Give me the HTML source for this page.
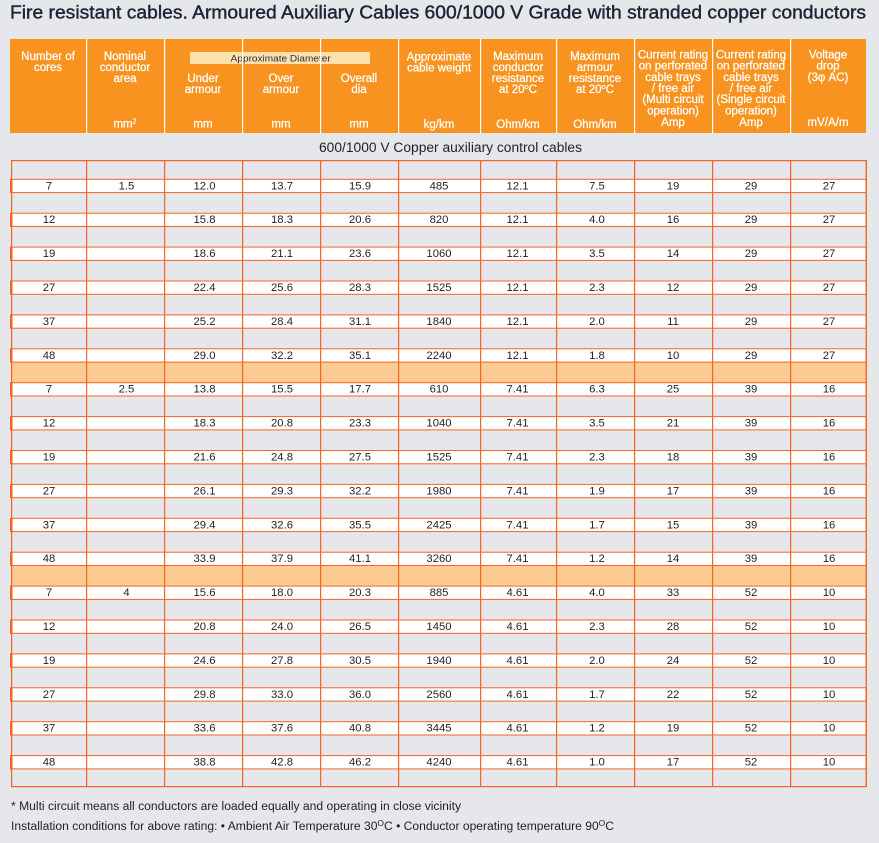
<!DOCTYPE html>
<html><head><meta charset="utf-8"><style>
html,body{margin:0;padding:0;background:#e6e7eb;}
svg{display:block}
.h{font-family:"Liberation Sans",sans-serif;font-size:11.5px;fill:#fff;stroke:#fff;stroke-width:0.25;text-anchor:middle}
.d{font-family:"Liberation Sans",sans-serif;font-size:11.3px;fill:#231f20;text-anchor:middle}
</style></head><body>
<svg width="879" height="843" viewBox="0 0 879 843" xmlns="http://www.w3.org/2000/svg">
<rect width="879" height="843" fill="#e6e7eb"/>
<text x="10" y="18.5" textLength="856" lengthAdjust="spacingAndGlyphs" font-family="Liberation Sans, sans-serif" font-size="18.5" fill="#1e2235" stroke="#1e2235" stroke-width="0.4">Fire resistant cables. Armoured Auxiliary Cables 600/1000 V Grade with stranded copper conductors</text>

<!-- header -->
<rect x="10" y="39" width="856" height="94" fill="#f7931e"/>
<rect x="190" y="52" width="180" height="12" fill="#fde1ab"/>
<text x="230.7" y="61.5" textLength="100" lengthAdjust="spacingAndGlyphs" font-family="Liberation Sans, sans-serif" font-size="9.5" fill="#2b2a4a">Approximate Diameter</text>
<g fill="#fff">
<rect x="86" y="39" width="1.2" height="94"/>
<rect x="164" y="39" width="1.2" height="94"/>
<rect x="242" y="39" width="1.2" height="94"/>
<rect x="320" y="39" width="1.2" height="94"/>
<rect x="398" y="39" width="1.2" height="94"/>
<rect x="480" y="39" width="1.2" height="94"/>
<rect x="556" y="39" width="1.2" height="94"/>
<rect x="634" y="39" width="1.2" height="94"/>
<rect x="712" y="39" width="1.2" height="94"/>
<rect x="790" y="39" width="1.2" height="94"/>
</g>
<g class="h">
<text x="48" y="60">Number of</text><text x="48" y="71">cores</text>
<text x="125" y="60">Nominal</text><text x="125" y="71">conductor</text><text x="125" y="82">area</text>
<text x="125" y="127.5">mm<tspan font-size="7" dy="-4">2</tspan></text>
<text x="203" y="82">Under</text><text x="203" y="93">armour</text><text x="203" y="127.5">mm</text>
<text x="281" y="82">Over</text><text x="281" y="93">armour</text><text x="281" y="127.5">mm</text>
<text x="359" y="82">Overall</text><text x="359" y="93">dia</text><text x="359" y="127.5">mm</text>
<text x="439" y="60.5">Approximate</text><text x="439" y="71.5">cable weight</text><text x="439" y="128">kg/km</text>
<text x="518" y="60">Maximum</text><text x="518" y="71">conductor</text><text x="518" y="82">resistance</text>
<text x="518" y="93">at 20<tspan font-size="7.5" dy="-4">o</tspan><tspan dy="4">C</tspan></text><text x="518" y="128">Ohm/km</text>
<text x="595" y="60">Maximum</text><text x="595" y="71">armour</text><text x="595" y="82">resistance</text>
<text x="595" y="93">at 20<tspan font-size="7.5" dy="-4">o</tspan><tspan dy="4">C</tspan></text><text x="595" y="128">Ohm/km</text>
<text x="673" y="58.5">Current rating</text><text x="673" y="69.5">on perforated</text><text x="673" y="81">cable trays</text><text x="673" y="92">/ free air</text><text x="673" y="103">(Multi circuit</text><text x="673" y="114.5">operation)</text><text x="673" y="126">Amp</text>
<text x="751" y="58.5">Current rating</text><text x="751" y="69.5">on perforated</text><text x="751" y="81">cable trays</text><text x="751" y="92">/ free air</text><text x="751" y="103">(Single circuit</text><text x="751" y="114.5">operation)</text><text x="751" y="126">Amp</text>
<text x="828" y="58.5">Voltage</text><text x="828" y="69.5">drop</text><text x="828" y="81">(3φ AC)</text><text x="828" y="126">mV/A/m</text>
</g>

<text x="319" y="152" textLength="263" lengthAdjust="spacingAndGlyphs" font-family="Liberation Sans, sans-serif" font-size="13.5" fill="#231f20">600/1000 V Copper auxiliary control cables</text>

<!-- highlight bands -->
<rect x="11" y="362.1" width="855" height="20.6" fill="#fdca92"/>
<rect x="11" y="565.5" width="855" height="20.6" fill="#fdca92"/>

<!-- rows -->
<g class="d">
<g transform="translate(0,179.3)"><rect x="11" y="0" width="855" height="13.3" fill="#fff" stroke="#f26522" stroke-width="1"/><rect x="10" y="-0.5" width="2.5" height="14.3" fill="#f26522"/>
<text x="49" y="10">7</text><text x="126.5" y="10">1.5</text><text x="204.5" y="10">12.0</text><text x="282" y="10">13.7</text><text x="360" y="10">15.9</text><text x="439" y="10">485</text><text x="517.5" y="10">12.1</text><text x="597" y="10">7.5</text><text x="673" y="10">19</text><text x="751" y="10">29</text><text x="829" y="10">27</text></g>
<g transform="translate(0,213.2)"><rect x="11" y="0" width="855" height="13.3" fill="#fff" stroke="#f26522" stroke-width="1"/><rect x="10" y="-0.5" width="2.5" height="14.3" fill="#f26522"/>
<text x="49" y="10">12</text><text x="204.5" y="10">15.8</text><text x="282" y="10">18.3</text><text x="360" y="10">20.6</text><text x="439" y="10">820</text><text x="517.5" y="10">12.1</text><text x="597" y="10">4.0</text><text x="673" y="10">16</text><text x="751" y="10">29</text><text x="829" y="10">27</text></g>
<g transform="translate(0,247.1)"><rect x="11" y="0" width="855" height="13.3" fill="#fff" stroke="#f26522" stroke-width="1"/><rect x="10" y="-0.5" width="2.5" height="14.3" fill="#f26522"/>
<text x="49" y="10">19</text><text x="204.5" y="10">18.6</text><text x="282" y="10">21.1</text><text x="360" y="10">23.6</text><text x="439" y="10">1060</text><text x="517.5" y="10">12.1</text><text x="597" y="10">3.5</text><text x="673" y="10">14</text><text x="751" y="10">29</text><text x="829" y="10">27</text></g>
<g transform="translate(0,281.0)"><rect x="11" y="0" width="855" height="13.3" fill="#fff" stroke="#f26522" stroke-width="1"/><rect x="10" y="-0.5" width="2.5" height="14.3" fill="#f26522"/>
<text x="49" y="10">27</text><text x="204.5" y="10">22.4</text><text x="282" y="10">25.6</text><text x="360" y="10">28.3</text><text x="439" y="10">1525</text><text x="517.5" y="10">12.1</text><text x="597" y="10">2.3</text><text x="673" y="10">12</text><text x="751" y="10">29</text><text x="829" y="10">27</text></g>
<g transform="translate(0,314.9)"><rect x="11" y="0" width="855" height="13.3" fill="#fff" stroke="#f26522" stroke-width="1"/><rect x="10" y="-0.5" width="2.5" height="14.3" fill="#f26522"/>
<text x="49" y="10">37</text><text x="204.5" y="10">25.2</text><text x="282" y="10">28.4</text><text x="360" y="10">31.1</text><text x="439" y="10">1840</text><text x="517.5" y="10">12.1</text><text x="597" y="10">2.0</text><text x="673" y="10">11</text><text x="751" y="10">29</text><text x="829" y="10">27</text></g>
<g transform="translate(0,348.8)"><rect x="11" y="0" width="855" height="13.3" fill="#fff" stroke="#f26522" stroke-width="1"/><rect x="10" y="-0.5" width="2.5" height="14.3" fill="#f26522"/>
<text x="49" y="10">48</text><text x="204.5" y="10">29.0</text><text x="282" y="10">32.2</text><text x="360" y="10">35.1</text><text x="439" y="10">2240</text><text x="517.5" y="10">12.1</text><text x="597" y="10">1.8</text><text x="673" y="10">10</text><text x="751" y="10">29</text><text x="829" y="10">27</text></g>
<g transform="translate(0,382.7)"><rect x="11" y="0" width="855" height="13.3" fill="#fff" stroke="#f26522" stroke-width="1"/><rect x="10" y="-0.5" width="2.5" height="14.3" fill="#f26522"/>
<text x="49" y="10">7</text><text x="126.5" y="10">2.5</text><text x="204.5" y="10">13.8</text><text x="282" y="10">15.5</text><text x="360" y="10">17.7</text><text x="439" y="10">610</text><text x="517.5" y="10">7.41</text><text x="597" y="10">6.3</text><text x="673" y="10">25</text><text x="751" y="10">39</text><text x="829" y="10">16</text></g>
<g transform="translate(0,416.6)"><rect x="11" y="0" width="855" height="13.3" fill="#fff" stroke="#f26522" stroke-width="1"/><rect x="10" y="-0.5" width="2.5" height="14.3" fill="#f26522"/>
<text x="49" y="10">12</text><text x="204.5" y="10">18.3</text><text x="282" y="10">20.8</text><text x="360" y="10">23.3</text><text x="439" y="10">1040</text><text x="517.5" y="10">7.41</text><text x="597" y="10">3.5</text><text x="673" y="10">21</text><text x="751" y="10">39</text><text x="829" y="10">16</text></g>
<g transform="translate(0,450.5)"><rect x="11" y="0" width="855" height="13.3" fill="#fff" stroke="#f26522" stroke-width="1"/><rect x="10" y="-0.5" width="2.5" height="14.3" fill="#f26522"/>
<text x="49" y="10">19</text><text x="204.5" y="10">21.6</text><text x="282" y="10">24.8</text><text x="360" y="10">27.5</text><text x="439" y="10">1525</text><text x="517.5" y="10">7.41</text><text x="597" y="10">2.3</text><text x="673" y="10">18</text><text x="751" y="10">39</text><text x="829" y="10">16</text></g>
<g transform="translate(0,484.4)"><rect x="11" y="0" width="855" height="13.3" fill="#fff" stroke="#f26522" stroke-width="1"/><rect x="10" y="-0.5" width="2.5" height="14.3" fill="#f26522"/>
<text x="49" y="10">27</text><text x="204.5" y="10">26.1</text><text x="282" y="10">29.3</text><text x="360" y="10">32.2</text><text x="439" y="10">1980</text><text x="517.5" y="10">7.41</text><text x="597" y="10">1.9</text><text x="673" y="10">17</text><text x="751" y="10">39</text><text x="829" y="10">16</text></g>
<g transform="translate(0,518.3)"><rect x="11" y="0" width="855" height="13.3" fill="#fff" stroke="#f26522" stroke-width="1"/><rect x="10" y="-0.5" width="2.5" height="14.3" fill="#f26522"/>
<text x="49" y="10">37</text><text x="204.5" y="10">29.4</text><text x="282" y="10">32.6</text><text x="360" y="10">35.5</text><text x="439" y="10">2425</text><text x="517.5" y="10">7.41</text><text x="597" y="10">1.7</text><text x="673" y="10">15</text><text x="751" y="10">39</text><text x="829" y="10">16</text></g>
<g transform="translate(0,552.2)"><rect x="11" y="0" width="855" height="13.3" fill="#fff" stroke="#f26522" stroke-width="1"/><rect x="10" y="-0.5" width="2.5" height="14.3" fill="#f26522"/>
<text x="49" y="10">48</text><text x="204.5" y="10">33.9</text><text x="282" y="10">37.9</text><text x="360" y="10">41.1</text><text x="439" y="10">3260</text><text x="517.5" y="10">7.41</text><text x="597" y="10">1.2</text><text x="673" y="10">14</text><text x="751" y="10">39</text><text x="829" y="10">16</text></g>
<g transform="translate(0,586.1)"><rect x="11" y="0" width="855" height="13.3" fill="#fff" stroke="#f26522" stroke-width="1"/><rect x="10" y="-0.5" width="2.5" height="14.3" fill="#f26522"/>
<text x="49" y="10">7</text><text x="126.5" y="10">4</text><text x="204.5" y="10">15.6</text><text x="282" y="10">18.0</text><text x="360" y="10">20.3</text><text x="439" y="10">885</text><text x="517.5" y="10">4.61</text><text x="597" y="10">4.0</text><text x="673" y="10">33</text><text x="751" y="10">52</text><text x="829" y="10">10</text></g>
<g transform="translate(0,620.0)"><rect x="11" y="0" width="855" height="13.3" fill="#fff" stroke="#f26522" stroke-width="1"/><rect x="10" y="-0.5" width="2.5" height="14.3" fill="#f26522"/>
<text x="49" y="10">12</text><text x="204.5" y="10">20.8</text><text x="282" y="10">24.0</text><text x="360" y="10">26.5</text><text x="439" y="10">1450</text><text x="517.5" y="10">4.61</text><text x="597" y="10">2.3</text><text x="673" y="10">28</text><text x="751" y="10">52</text><text x="829" y="10">10</text></g>
<g transform="translate(0,653.9)"><rect x="11" y="0" width="855" height="13.3" fill="#fff" stroke="#f26522" stroke-width="1"/><rect x="10" y="-0.5" width="2.5" height="14.3" fill="#f26522"/>
<text x="49" y="10">19</text><text x="204.5" y="10">24.6</text><text x="282" y="10">27.8</text><text x="360" y="10">30.5</text><text x="439" y="10">1940</text><text x="517.5" y="10">4.61</text><text x="597" y="10">2.0</text><text x="673" y="10">24</text><text x="751" y="10">52</text><text x="829" y="10">10</text></g>
<g transform="translate(0,687.8)"><rect x="11" y="0" width="855" height="13.3" fill="#fff" stroke="#f26522" stroke-width="1"/><rect x="10" y="-0.5" width="2.5" height="14.3" fill="#f26522"/>
<text x="49" y="10">27</text><text x="204.5" y="10">29.8</text><text x="282" y="10">33.0</text><text x="360" y="10">36.0</text><text x="439" y="10">2560</text><text x="517.5" y="10">4.61</text><text x="597" y="10">1.7</text><text x="673" y="10">22</text><text x="751" y="10">52</text><text x="829" y="10">10</text></g>
<g transform="translate(0,721.7)"><rect x="11" y="0" width="855" height="13.3" fill="#fff" stroke="#f26522" stroke-width="1"/><rect x="10" y="-0.5" width="2.5" height="14.3" fill="#f26522"/>
<text x="49" y="10">37</text><text x="204.5" y="10">33.6</text><text x="282" y="10">37.6</text><text x="360" y="10">40.8</text><text x="439" y="10">3445</text><text x="517.5" y="10">4.61</text><text x="597" y="10">1.2</text><text x="673" y="10">19</text><text x="751" y="10">52</text><text x="829" y="10">10</text></g>
<g transform="translate(0,755.6)"><rect x="11" y="0" width="855" height="13.3" fill="#fff" stroke="#f26522" stroke-width="1"/><rect x="10" y="-0.5" width="2.5" height="14.3" fill="#f26522"/>
<text x="49" y="10">48</text><text x="204.5" y="10">38.8</text><text x="282" y="10">42.8</text><text x="360" y="10">46.2</text><text x="439" y="10">4240</text><text x="517.5" y="10">4.61</text><text x="597" y="10">1.0</text><text x="673" y="10">17</text><text x="751" y="10">52</text><text x="829" y="10">10</text></g>
</g>

<!-- grid lines -->
<g fill="#f26522">
<rect x="11" y="160" width="856" height="1.2"/>
<rect x="11" y="786" width="856" height="1.2"/>
<rect x="11" y="160" width="1.2" height="627"/>
<rect x="86" y="160" width="1.2" height="627"/>
<rect x="164" y="160" width="1.2" height="627"/>
<rect x="242" y="160" width="1.2" height="627"/>
<rect x="320" y="160" width="1.2" height="627"/>
<rect x="398" y="160" width="1.2" height="627"/>
<rect x="480" y="160" width="1.2" height="627"/>
<rect x="556" y="160" width="1.2" height="627"/>
<rect x="634" y="160" width="1.2" height="627"/>
<rect x="712" y="160" width="1.2" height="627"/>
<rect x="790" y="160" width="1.2" height="627"/>
<rect x="865.6" y="160" width="1.4" height="627"/>
</g>

<!-- footnotes -->
<text x="11" y="810" textLength="450" lengthAdjust="spacingAndGlyphs" font-family="Liberation Sans, sans-serif" font-size="11.5" fill="#231f20">* Multi circuit means all conductors are loaded equally and operating in close vicinity</text>
<text x="11" y="830" textLength="603" lengthAdjust="spacingAndGlyphs" font-family="Liberation Sans, sans-serif" font-size="11.5" fill="#231f20">Installation conditions for above rating: • Ambient Air Temperature 30<tspan font-size="8" dy="-4">O</tspan><tspan dy="4">C • Conductor operating temperature 90</tspan><tspan font-size="8" dy="-4">O</tspan><tspan dy="4">C</tspan></text>
</svg>
</body></html>
